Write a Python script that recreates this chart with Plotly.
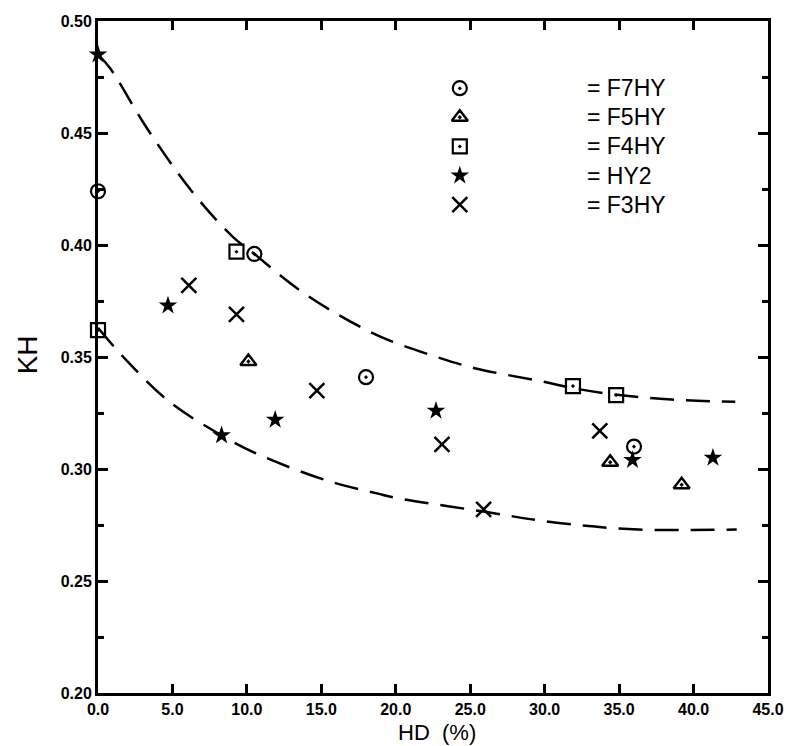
import plotly.graph_objects as go

# ---- data ----
f7hy_x = [0.0, 10.5, 18.0, 36.0]
f7hy_y = [0.424, 0.396, 0.341, 0.310]

f5hy_x = [10.1, 34.4, 39.2]
f5hy_y = [0.348, 0.303, 0.293]

f4hy_x = [0.0, 9.3, 31.9, 34.8]
f4hy_y = [0.362, 0.397, 0.337, 0.333]

hy2_x = [0.0, 4.7, 8.3, 11.9, 22.7, 35.9, 41.3]
hy2_y = [0.485, 0.373, 0.315, 0.322, 0.326, 0.304, 0.305]

f3hy_x = [6.1, 9.3, 14.7, 23.1, 25.9, 33.7]
f3hy_y = [0.382, 0.369, 0.335, 0.311, 0.282, 0.317]

upper_x = [0.0, 0.8, 3.3, 6.3, 9.0, 10.5, 13.3, 16.1, 19.0, 22.3, 25.3, 29.9, 32.0, 35.0, 38.5, 42.8]
upper_y = [0.485, 0.479, 0.452, 0.424, 0.404, 0.396, 0.381, 0.369, 0.359, 0.351, 0.345, 0.339, 0.336, 0.333, 0.331, 0.330]

lower_x = [0.0, 1.7, 4.8, 8.3, 10.6, 15.3, 18.8, 20.1, 25.9, 30.8, 36.3, 42.9]
lower_y = [0.363, 0.350, 0.330, 0.315, 0.307, 0.295, 0.289, 0.287, 0.281, 0.276, 0.273, 0.273]

legend_names = ["= F7HY", "= F5HY", "= F4HY", "= HY2", "= F3HY"]
legend_sym_x = [24.3, 24.3, 24.3, 24.3, 24.3]
legend_y = [0.470, 0.457, 0.444, 0.431, 0.418]
legend_text_x = [32.7, 32.7, 32.7, 32.7, 32.7]

x_ticks = [0, 5, 10, 15, 20, 25, 30, 35, 40, 45]
y_ticks = [0.20, 0.25, 0.30, 0.35, 0.40, 0.45, 0.50]
y_minor_ticks = [0.225, 0.275, 0.325, 0.375, 0.425, 0.475]

black = "black"
fig = go.Figure()

dash = "24px,12px"
fig.add_trace(go.Scatter(x=upper_x, y=upper_y, mode="lines", line=dict(color=black, width=2.5, dash=dash, shape="spline"), showlegend=False, hoverinfo="skip"))
fig.add_trace(go.Scatter(x=lower_x, y=lower_y, mode="lines", line=dict(color=black, width=2.5, dash=dash, shape="spline"), showlegend=False, hoverinfo="skip"))

series = [
    (f7hy_x, f7hy_y, "circle-open-dot", 14, 2.2),
    (f5hy_x, f5hy_y, "triangle-up-open-dot", 14, 2.4),
    (f4hy_x, f4hy_y, "square-open-dot", 14, 2.2),
    (hy2_x, hy2_y, "star", 14, 0),
    (f3hy_x, f3hy_y, "x-thin-open", 15, 2.5),
]
for i, (xs, ys, sym, sz, lw) in enumerate(series):
    fig.add_trace(go.Scatter(x=xs, y=ys, mode="markers", cliponaxis=False,
                             marker=dict(symbol=sym, size=sz, color=black, line=dict(color=black, width=lw)),
                             showlegend=False))
    fig.add_trace(go.Scatter(x=[legend_sym_x[i]], y=[legend_y[i]], mode="markers",
                             marker=dict(symbol=sym, size=sz, color=black, line=dict(color=black, width=lw)),
                             showlegend=False, hoverinfo="skip"))
    fig.add_annotation(x=legend_text_x[i], y=legend_y[i], text=legend_names[i], showarrow=False,
                       xanchor="left", yanchor="middle", font=dict(family="Liberation Sans, Arial", size=23, color=black))

fig.add_annotation(xref="paper", yref="paper", x=-0.104, y=0.503, text="KH", textangle=-90, showarrow=False,
                   xanchor="center", yanchor="middle", font=dict(family="Liberation Sans Narrow, Liberation Sans", size=28, color=black))
fig.add_annotation(xref="paper", yref="paper", x=0.506, y=-0.059, text="HD  (%)", showarrow=False,
                   xanchor="center", yanchor="middle", font=dict(family="Liberation Sans Narrow, Liberation Sans", size=22, color=black))

axis_common = dict(showgrid=False, zeroline=False, showline=True, linecolor=black, linewidth=3,
                   ticks="inside", tickcolor=black, tickwidth=2.5, mirror="allticks",
                   tickfont=dict(family="Liberation Sans, Arial", size=16, color=black, weight="bold"))

fig.update_xaxes(range=[0, 45], tickvals=x_ticks, ticktext=[f"{v:.1f}" for v in x_ticks], ticklen=9, **axis_common)
fig.update_yaxes(range=[0.20, 0.50], tickvals=y_ticks, ticktext=[f"{v:.2f}" for v in y_ticks], ticklen=10,
                 minor=dict(tickmode="array", tickvals=y_minor_ticks, ticks="inside", ticklen=6, tickcolor=black, tickwidth=2.5),
                 **axis_common)

fig.update_layout(width=796, height=746, margin=dict(l=98, r=22, t=21, b=53),
                  plot_bgcolor="white", paper_bgcolor="white", showlegend=False)

fig.write_html("out.html")
